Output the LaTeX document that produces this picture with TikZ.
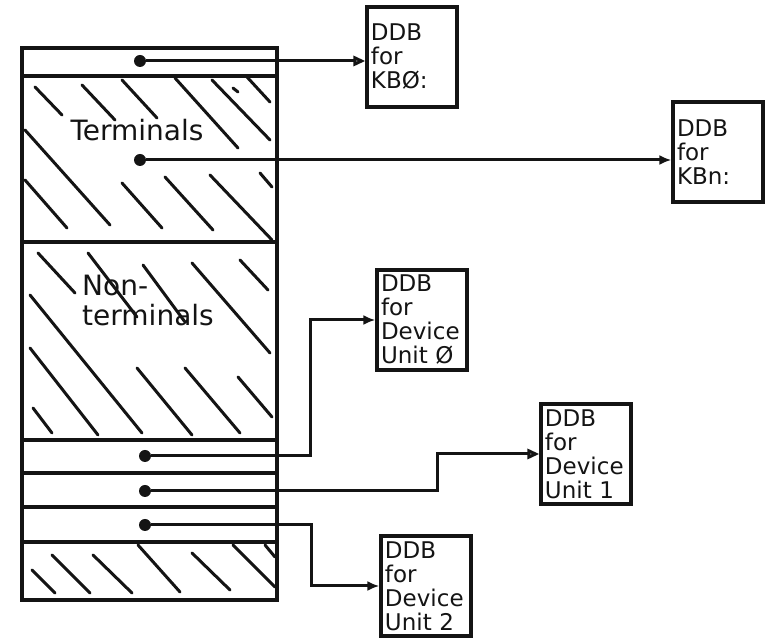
\documentclass[tikz,border=0pt]{standalone}
\usepackage{fontspec}
\setmainfont{DejaVu Sans}
\usetikzlibrary{arrows.meta}
\definecolor{ink}{RGB}{20,20,20}

\begin{document}
\begin{tikzpicture}[
  x=0.5pt,y=-0.5pt,
  every node/.style={align=left},
  ddb/.style={draw=ink, line width=1.6pt, minimum width=45pt, minimum height=50pt, text width=41pt, inner sep=2pt, font=\fontsize{11.5}{12}\selectfont, text=ink},
  lbl/.style={font=\fontsize{14}{15}\selectfont, text=ink},
  frame/.style={draw=ink, line width=1.6pt},
  hatch/.style={ink, line width=1.5pt, line cap=round},
  ptr/.style={ink, line width=1.5pt, -{Latex[length=6pt,width=5pt]}},
  optr/.style={ink, line width=1.5pt, -{Triangle[open,length=6pt,width=5pt]}},
  dot/.style={circle, fill=ink, inner sep=0pt, minimum size=6pt}
]
% table of device data blocks
\draw[frame] (22,48) rectangle (277,600);
\foreach \y in {76,242,440,473,507,542}
  \draw[frame] (22,\y) -- (277,\y);

% hatching
\foreach \a/\b/\c/\d in {35/87/62/115, 82/85/115/120, 122/80/157/118, 175/78/238/148,
    212/80/270/140, 247/77/270/102, 233/88/238/92, 25/130/110/225, 25/180/67/228,
    122/183/162/228, 165/177/213/230, 210/175/272/240, 260/173/272/187}
  \draw[hatch] (\a,\b) -- (\c,\d);
\foreach \a/\b/\c/\d in {38/253/75/293, 88/253/137/317, 143/265/185/322, 192/263/270/353,
    240/260/268/290, 30/295/142/433, 30/348/98/435, 33/408/52/433, 137/368/192/435,
    185/368/240/433, 238/377/272/417}
  \draw[hatch] (\a,\b) -- (\c,\d);
\foreach \a/\b/\c/\d in {32/570/55/593, 52/555/90/593, 93/555/132/593, 138/545/180/592,
    192/553/230/590, 233/545/275/587, 265/545/275/557}
  \draw[hatch] (\a,\b) -- (\c,\d);

\node[lbl] (term) at (137,130) {Terminals};
\node[lbl] (nonterm) at (148,300) {Non-\\terminals};

% pointers
\node[dot] (p1) at (140,61) {};
\node[dot] (p2) at (140,160) {};
\node[dot] (p3) at (145,456) {};
\node[dot] (p4) at (145,491) {};
\node[dot] (p5) at (145,525) {};

% DDBs
\node[ddb] (kbz) at (412,57) {DDB\\for\\KBØ:};
\node[ddb] (kbn) at (718,152) {DDB\\for\\KBn:};
\node[ddb] (u0) at (422,320) {DDB\\for\\Device\\Unit Ø};
\node[ddb] (u1) at (586,454) {DDB\\for\\Device\\Unit 1};
\node[ddb] (u2) at (426,586) {DDB\\for\\Device\\Unit 2};

\draw[optr] (p1) -- (p1 -| kbz.west);
\draw[ptr] (p2) -- (p2 -| kbn.west);
\draw[ptr] (p3) -| ([xshift=-32.5pt]u0.west) -- (u0.west);
\draw[optr] (p4) -| ([xshift=-51pt]u1.west) -- (u1.west);
\draw[ptr] (p5) -| ([xshift=-34pt]u2.west) -- (u2.west);

\path[use as bounding box] (0,0) rectangle (768,640);
\end{tikzpicture}
\end{document}
